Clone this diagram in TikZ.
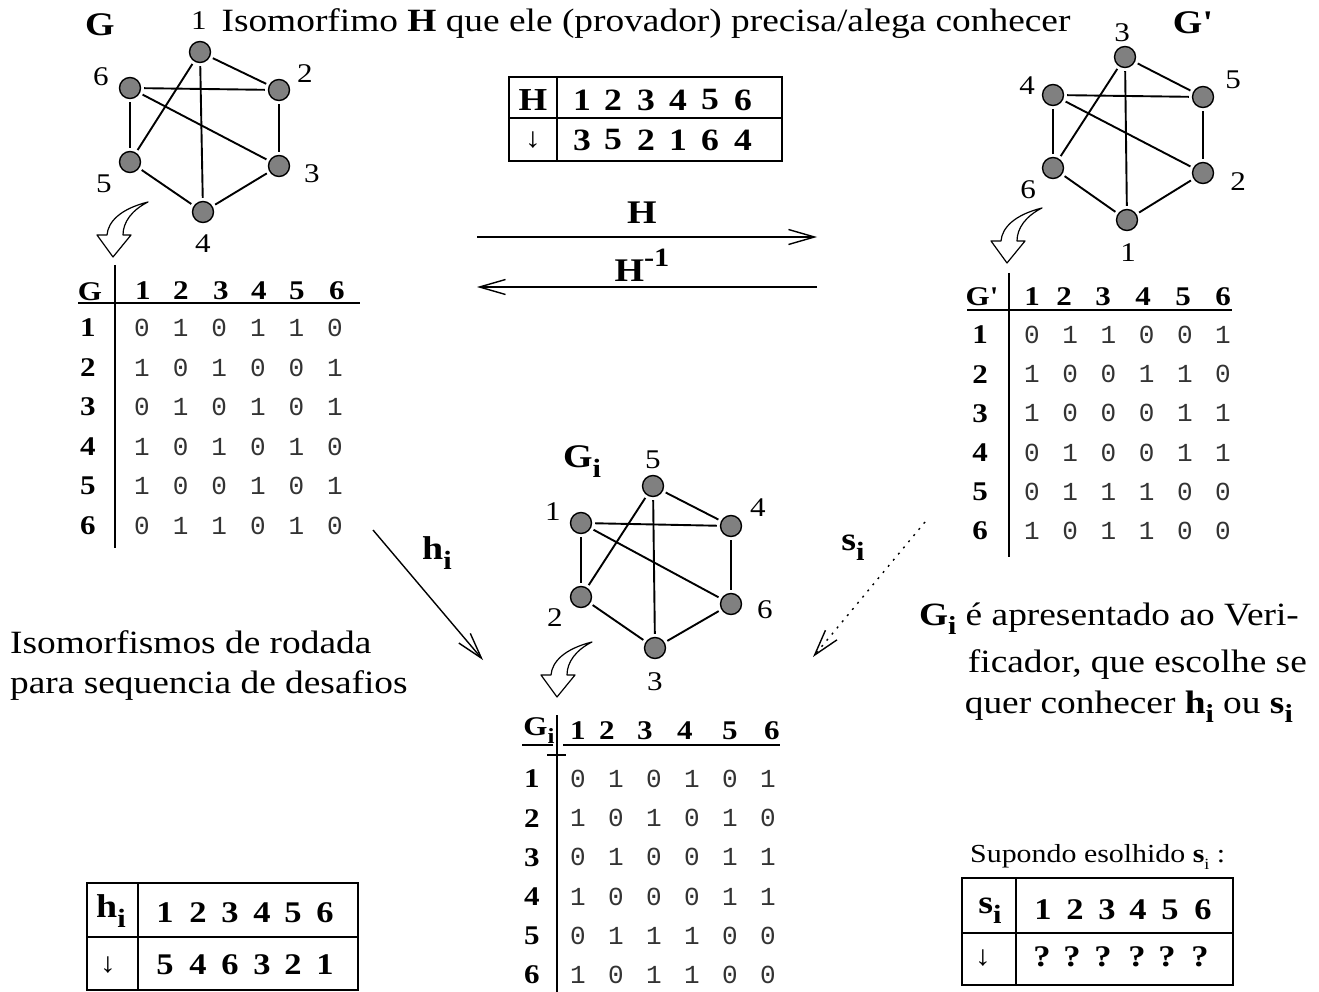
\documentclass[tikz,border=0pt]{standalone}
\usepackage{fontspec}
\usepackage{graphicx}
\setmainfont{Liberation Serif}[FakeStretch=1.15]
\newfontfamily\nolig{Liberation Serif}[FakeStretch=1.15,Ligatures=TeXOff]
\setmonofont{Liberation Mono}
\usetikzlibrary{arrows.meta}
\newcommand\fs[1]{\fontsize{#1}{#1}\selectfont}
\newcommand\bsub[1]{\raisebox{-0.3em}{\scalebox{0.8}{#1}}}
\tikzset{
  vtx/.style={circle,draw,fill=gray,line width=1.4pt,minimum size=21pt,inner sep=0pt},
  edge/.style={line width=1.9pt,shorten <=3pt,shorten >=3pt},
  nlbl/.style={inner sep=0pt,font=\fs{27}},
  hd/.style={inner sep=0pt,font=\fs{27}\bfseries},
  dat/.style={inner sep=0pt,font=\fs{26}\ttfamily,text=black!80},
  txt/.style={inner sep=0pt,font=\fs{32.5}},
  bigbold/.style={inner sep=0pt,font=\fs{33}\bfseries},
  tbold/.style={inner sep=0pt,font=\fs{30}\bfseries},
  arrg/.style={inner sep=0pt,font=\fs{28}},
  tline/.style={line width=1.6pt},
  barb/.style={line width=1.4pt,-{Straight Barb[length=26pt,width=15pt]}},
  curvarr/.pic={
    \draw[line width=1.2pt,fill=white,line join=round]
      (0,0) .. controls (-28,7) and (-40,20) .. (-41,33) -- (-51,33) -- (-35,55)
      -- (-17,33) -- (-25,33) .. controls (-25,20) and (-16,8) .. (0,0) -- cycle;
  }
}
\begin{document}
\begin{tikzpicture}[x=1pt,y=-1pt]
\useasboundingbox (0,0) rectangle (1319,992);
\fill[white] (0,0) rectangle (1319,992);

% ---------- title ----------
\node[txt,anchor=base] (title) at (646,32) {Isomorfimo \textbf{H} que ele (provador) precisa/alega conhecer};

% ---------- graph G ----------
\node[bigbold] (labG) at (100,25) {G};
\node[vtx] (g1) at (200,52) {};
\node[vtx] (g2) at (279,90) {};
\node[vtx] (g3) at (279,166) {};
\node[vtx] (g4) at (203,212) {};
\node[vtx] (g5) at (130,162) {};
\node[vtx] (g6) at (130,88) {};
\foreach \a/\b in {1/2,1/4,1/5,6/2,6/3,6/5,2/3,3/4,5/4} \draw[edge] (g\a) -- (g\b);
\node[nlbl] (gl1) at (199,21) {1};
\node[nlbl] (gl2) at (305,74) {2};
\node[nlbl] (gl3) at (312,174) {3};
\node[nlbl] (gl4) at (203,244) {4};
\node[nlbl] (gl5) at (104,184) {5};
\node[nlbl] (gl6) at (101,77) {6};
\pic at (148,202) {curvarr};

% ---------- graph G' ----------
\node[bigbold,font=\fs{33}\nolig\bfseries] (labGp) at (1193,23) {G'};
\node[vtx] (p3) at (1125,57) {};
\node[vtx] (p5) at (1203,97) {};
\node[vtx] (p2) at (1203,173) {};
\node[vtx] (p1) at (1127,220) {};
\node[vtx] (p6) at (1053,168) {};
\node[vtx] (p4) at (1053,95) {};
\foreach \a/\b in {3/5,3/1,3/6,4/5,4/2,4/6,5/2,2/1,6/1} \draw[edge] (p\a) -- (p\b);
\node[nlbl] (pl3) at (1122,33) {3};
\node[nlbl] (pl5) at (1233,80) {5};
\node[nlbl] (pl2) at (1238,182) {2};
\node[nlbl] (pl1) at (1128,253) {1};
\node[nlbl] (pl6) at (1028,190) {6};
\node[nlbl] (pl4) at (1027,86) {4};
\pic at (1042,208) {curvarr};

% ---------- graph Gi ----------
\node[bigbold] (labGi) at (582,462) {G\bsub{i}};
\node[vtx] (i5) at (653,486) {};
\node[vtx] (i4) at (731,526) {};
\node[vtx] (i6) at (731,604) {};
\node[vtx] (i3) at (655,648) {};
\node[vtx] (i2) at (581,597) {};
\node[vtx] (i1) at (581,523) {};
\foreach \a/\b in {5/4,5/3,5/2,1/4,1/6,1/2,4/6,6/3,2/3} \draw[edge] (i\a) -- (i\b);
\node[nlbl] (il5) at (653,460) {5};
\node[nlbl] (il4) at (758,508) {4};
\node[nlbl] (il6) at (765,610) {6};
\node[nlbl] (il3) at (655,682) {3};
\node[nlbl] (il2) at (555,618) {2};
\node[nlbl] (il1) at (553,512) {1};
\pic at (592,642) {curvarr};

% ---------- H table ----------
\draw[tline] (509,77) rectangle (782,161);
\draw[tline] (557,77) -- (557,161);
\draw[tline] (509,118) -- (782,118);
\node[tbold,font=\fs{32}\bfseries] (hH) at (533,100) {H};
\node[arrg] (hArr) at (533,140) {↓};
\foreach \d/\e [count=\c] in {1/3,2/5,3/2,4/1,5/6,6/4} {
  \pgfmathsetmacro\xx{{582,613,646,678,710,743}[\c-1]}
  \node[tbold,font=\fs{31}\bfseries] (hT\c) at (\xx,100) {\d};
  \node[tbold,font=\fs{31}\bfseries] (hB\c) at (\xx,140) {\e};
}

% ---------- H arrows ----------
\coordinate (ha1) at (477,237);
\coordinate (ha2) at (817,237);
\coordinate (hb1) at (817,287);
\coordinate (hb2) at (477,287);
\draw[barb] (ha1) -- (ha2);
\draw[barb] (hb1) -- (hb2);
\node[bigbold] (labH) at (642,213) {H};
\node[bigbold,anchor=base] (labHi) at (642,281) {H\raisebox{0.45em}{\scalebox{0.8}{-1}}};

% ---------- G table ----------
\draw[tline] (115,265) -- (115,548);
\draw[tline] (78,303) -- (360,303);
\node[hd] (gtG) at (90,292) {G};
\foreach \c in {1,...,6} {
  \pgfmathsetmacro\xx{{143,181,221,259,297,337}[\c-1]}
  \node[hd] (gtH\c) at (\xx,291) {\c};
}
\foreach \r/\vals in {1/{0,1,0,1,1,0},2/{1,0,1,0,0,1},3/{0,1,0,1,0,1},4/{1,0,1,0,1,0},5/{1,0,0,1,0,1},6/{0,1,1,0,1,0}} {
  \pgfmathsetmacro\yy{328+(\r-1)*39.5}
  \node[hd] (gtR\r) at (88,\yy) {\r};
  \foreach \v [count=\c] in \vals {
    \node[dat] (gt\r\c) at ({142+(\c-1)*38.6},\yy) {\v};
  }
}

% ---------- G' table ----------
\draw[tline] (1009,273) -- (1009,557);
\draw[tline] (967,310) -- (1232,310);
\node[hd,font=\fs{27}\nolig\bfseries] (ptG) at (982,297) {G'};
\foreach \c in {1,...,6} {
  \pgfmathsetmacro\xx{{1032,1064,1103,1143,1183,1223}[\c-1]}
  \node[hd] (ptH\c) at (\xx,297) {\c};
}
\foreach \r/\vals in {1/{0,1,1,0,0,1},2/{1,0,0,1,1,0},3/{1,0,0,0,1,1},4/{0,1,0,0,1,1},5/{0,1,1,1,0,0},6/{1,0,1,1,0,0}} {
  \pgfmathsetmacro\yy{335+(\r-1)*39.2}
  \node[hd] (ptR\r) at (980,\yy) {\r};
  \foreach \v [count=\c] in \vals {
    \node[dat] (pt\r\c) at ({1032+(\c-1)*38.2},\yy) {\v};
  }
}

% ---------- Gi table ----------
\draw[tline] (557,715) -- (557,992);
\draw[tline] (522,745) -- (553,745);
\draw[tline] (547,755) -- (566,755);
\draw[tline] (563,745) -- (780,745);
\node[hd] (itG) at (539,731) {G\bsub{i}};
\foreach \c in {1,...,6} {
  \pgfmathsetmacro\xx{{578,607,645,685,730,772}[\c-1]}
  \node[hd] (itH\c) at (\xx,731) {\c};
}
\foreach \r/\vals in {1/{0,1,0,1,0,1},2/{1,0,1,0,1,0},3/{0,1,0,0,1,1},4/{1,0,0,0,1,1},5/{0,1,1,1,0,0},6/{1,0,1,1,0,0}} {
  \pgfmathsetmacro\yy{779+(\r-1)*39.2}
  \node[hd] (itR\r) at (532,\yy) {\r};
  \foreach \v [count=\c] in \vals {
    \node[dat] (it\r\c) at ({578+(\c-1)*38},\yy) {\v};
  }
}

% ---------- hi / si arrows ----------
\coordinate (hs) at (373,530);
\coordinate (he) at (483,660);
\draw[barb] (hs) -- (he);
\node[bigbold] (labhi) at (437,553) {h\bsub{i}};
\coordinate (ss) at (925,522);
\coordinate (se) at (813,657);
\draw[barb,dash pattern=on 2pt off 6pt] (ss) -- (se);
\node[bigbold] (labsi) at (853,548) {s\bsub{i}};

% ---------- side texts ----------
\node[txt,anchor=base west] (iso1) at (10,653) {Isomorfismos de rodada};
\node[txt,anchor=base west] (iso2) at (10,693) {para sequencia de desafios};
\node[txt,anchor=base east] (ver1) at (1299,625) {\textbf{G\bsub{i}} é apresentado ao Veri-};
\node[txt,anchor=base east] (ver2) at (1307,672) {ficador, que escolhe se};
\node[txt,anchor=base east] (ver3) at (1293,713) {quer conhecer \textbf{h\bsub{i}} ou \textbf{s\bsub{i}}};

% ---------- hi table ----------
\draw[tline] (87,883) rectangle (358,990);
\draw[tline] (138,883) -- (138,990);
\draw[tline] (87,937) -- (358,937);
\node[bigbold] (thi) at (111,911) {h\bsub{i}};
\node[arrg] (thArr) at (108,965) {↓};
\foreach \d/\e [count=\c] in {1/5,2/4,3/6,4/3,5/2,6/1} {
  \pgfmathsetmacro\xx{{165,198,230,262,293,325}[\c-1]}
  \node[tbold] (thT\c) at (\xx,913) {\d};
  \node[tbold] (thB\c) at (\xx,965) {\e};
}

% ---------- si table ----------
\node[inner sep=0pt,anchor=base west,font=\fs{26}] (sup) at (970,862) {Supondo esolhido \textbf{s}\raisebox{-0.3em}{\scalebox{0.6}{i}} :};
\draw[tline] (962,878) rectangle (1233,985);
\draw[tline] (1016,878) -- (1016,985);
\draw[tline] (962,933) -- (1233,933);
\node[bigbold] (tsi) at (990,911) {s\bsub{i}};
\node[arrg] (tsArr) at (983,958) {↓};
\foreach \c in {1,...,6} {
  \pgfmathsetmacro\xx{{1043,1075,1107,1138,1170,1203}[\c-1]}
  \pgfmathsetmacro\qx{{1042,1072,1103,1137,1167,1200}[\c-1]}
  \node[tbold] (tsT\c) at (\xx,910) {\c};
  \node[tbold] (tsB\c) at (\qx,957) {?};
}
\end{tikzpicture}
\end{document}
